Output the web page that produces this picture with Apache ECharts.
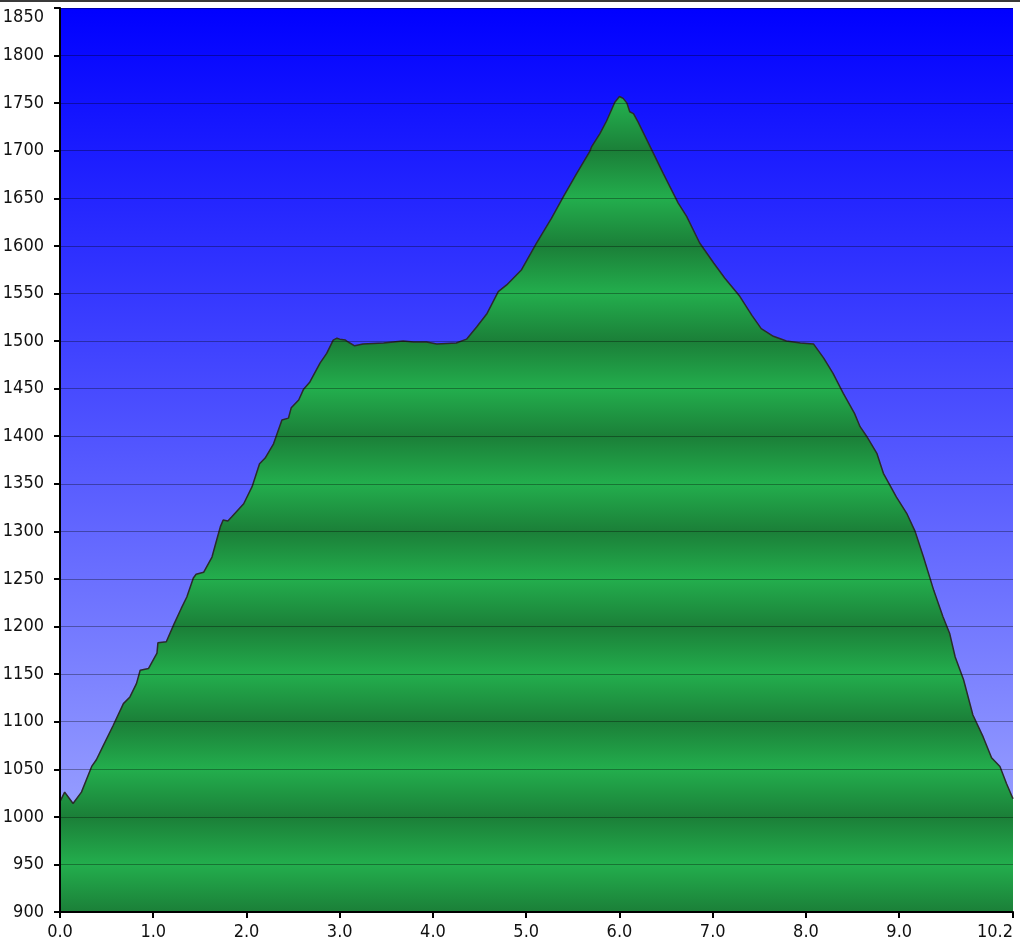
<!DOCTYPE html>
<html><head><meta charset="utf-8">
<script src="https://cdn.jsdelivr.net/npm/echarts@6/dist/echarts.min.js"></script>
<style>html,body{margin:0;padding:0;background:#fff}#c{width:1020px;height:950px}</style>
</head><body><div id="c"></div>
<script>
// Distance along route (km)
const distanceKm = [0.00,0.05,0.14,0.23,0.34,0.39,0.46,0.57,0.68,0.75,0.82,0.86,0.95,1.04,1.05,1.14,1.22,1.30,1.36,1.43,1.46,1.54,1.63,1.68,1.72,1.75,1.80,1.84,1.97,2.06,2.14,2.20,2.29,2.38,2.45,2.48,2.56,2.61,2.68,2.79,2.86,2.93,2.97,3.00,3.06,3.09,3.16,3.25,3.47,3.68,3.79,3.93,4.04,4.25,4.36,4.47,4.58,4.70,4.79,4.95,5.11,5.27,5.40,5.54,5.68,5.70,5.79,5.86,5.95,6.00,6.04,6.08,6.11,6.15,6.20,6.33,6.47,6.63,6.72,6.86,7.01,7.13,7.29,7.42,7.52,7.65,7.79,7.94,8.08,8.19,8.29,8.40,8.52,8.58,8.65,8.76,8.83,8.97,9.08,9.17,9.26,9.37,9.47,9.54,9.60,9.69,9.79,9.90,9.99,10.08,10.15,10.22];
// Elevation (m)
const elevationM = [1016,1026,1014,1026,1053,1060,1074,1096,1119,1126,1140,1154,1156,1172,1183,1184,1202,1219,1231,1251,1255,1257,1273,1291,1305,1312,1311,1315,1329,1347,1371,1377,1392,1417,1419,1430,1438,1449,1457,1477,1487,1501,1503,1502,1501,1499,1495,1497,1498,1500,1499,1499,1497,1498,1502,1515,1529,1552,1559,1575,1603,1629,1652,1676,1699,1704,1718,1731,1751,1757,1755,1750,1741,1739,1730,1704,1676,1645,1631,1603,1582,1566,1547,1527,1513,1505,1500,1498,1497,1482,1466,1445,1424,1410,1400,1382,1361,1336,1319,1300,1273,1238,1210,1193,1168,1144,1107,1084,1062,1053,1035,1019];
// Axis ticks
const xTickValues = [0,1,2,3,4,5,6,7,8,9,10.22];
const yMin = 900, yMax = 1850, yStep = 50;

const LIGHT = '#23ae4d', DARK = '#1b7f38';
const chart = echarts.init(document.getElementById('c'), null, {renderer:'canvas'});
const font = {fontFamily:'"DejaVu Sans Condensed", "DejaVu Sans", sans-serif', fontSize:18, color:'#111'};

function buildOption(areaColor){
  return {
    animation:false,
    backgroundColor:'#fff',
    graphic:[{type:'rect', shape:{x:0,y:0,width:1020,height:2}, style:{fill:'#3a3a3a'}, z:100}],
    grid:{left:60,right:7,top:8,bottom:38,show:true,borderWidth:0,outerBoundsMode:'none',containLabel:false,
      backgroundColor:new echarts.graphic.LinearGradient(0,0,0,1,[{offset:0,color:'#0000ff'},{offset:1,color:'#a9b1ff'}])},
    xAxis:{type:'value',min:0,max:10.22,z:3,
      axisLine:{show:true,onZero:false,lineStyle:{color:'#000',width:2}},
      axisTick:{show:true,length:6,lineStyle:{color:'#000',width:2},customValues:xTickValues},
      axisLabel:Object.assign({margin:11,customValues:xTickValues,alignMaxLabel:'right',formatter:v=>v.toFixed(1)},font),
      splitLine:{show:false}},
    yAxis:{type:'value',min:yMin,max:yMax,interval:yStep,z:3,
      axisLine:{show:true,lineStyle:{color:'#000',width:2}},
      axisTick:{show:true,length:6,lineStyle:{color:'#000',width:2}},
      axisLabel:Object.assign({margin:16,verticalAlignMaxLabel:'top',formatter:v=>String(v)},font),
      splitLine:{show:true,lineStyle:{color:'rgba(0,0,0,0.33)',width:1}}},
    series:[{type:'line',data:distanceKm.map((d,i)=>[d,elevationM[i]]),
      showSymbol:false,smooth:false,z:2,
      lineStyle:{color:'#2b2b2b',width:1.5},
      areaStyle:{color:areaColor||LIGHT,opacity:1}}]
  };
}
chart.setOption(buildOption());
const yBottom = chart.convertToPixel({yAxisIndex:0}, yMin);
const yTop = chart.convertToPixel({yAxisIndex:0}, yMax);
const stops = [];
for(let v=yMin; v<=yMax; v+=yStep){
  stops.push({offset:(v-yMin)/(yMax-yMin), color:(v%100===0)?DARK:LIGHT});
}
chart.setOption(buildOption(new echarts.graphic.LinearGradient(0,yBottom,0,yTop,stops,true)));
</script></body></html>
